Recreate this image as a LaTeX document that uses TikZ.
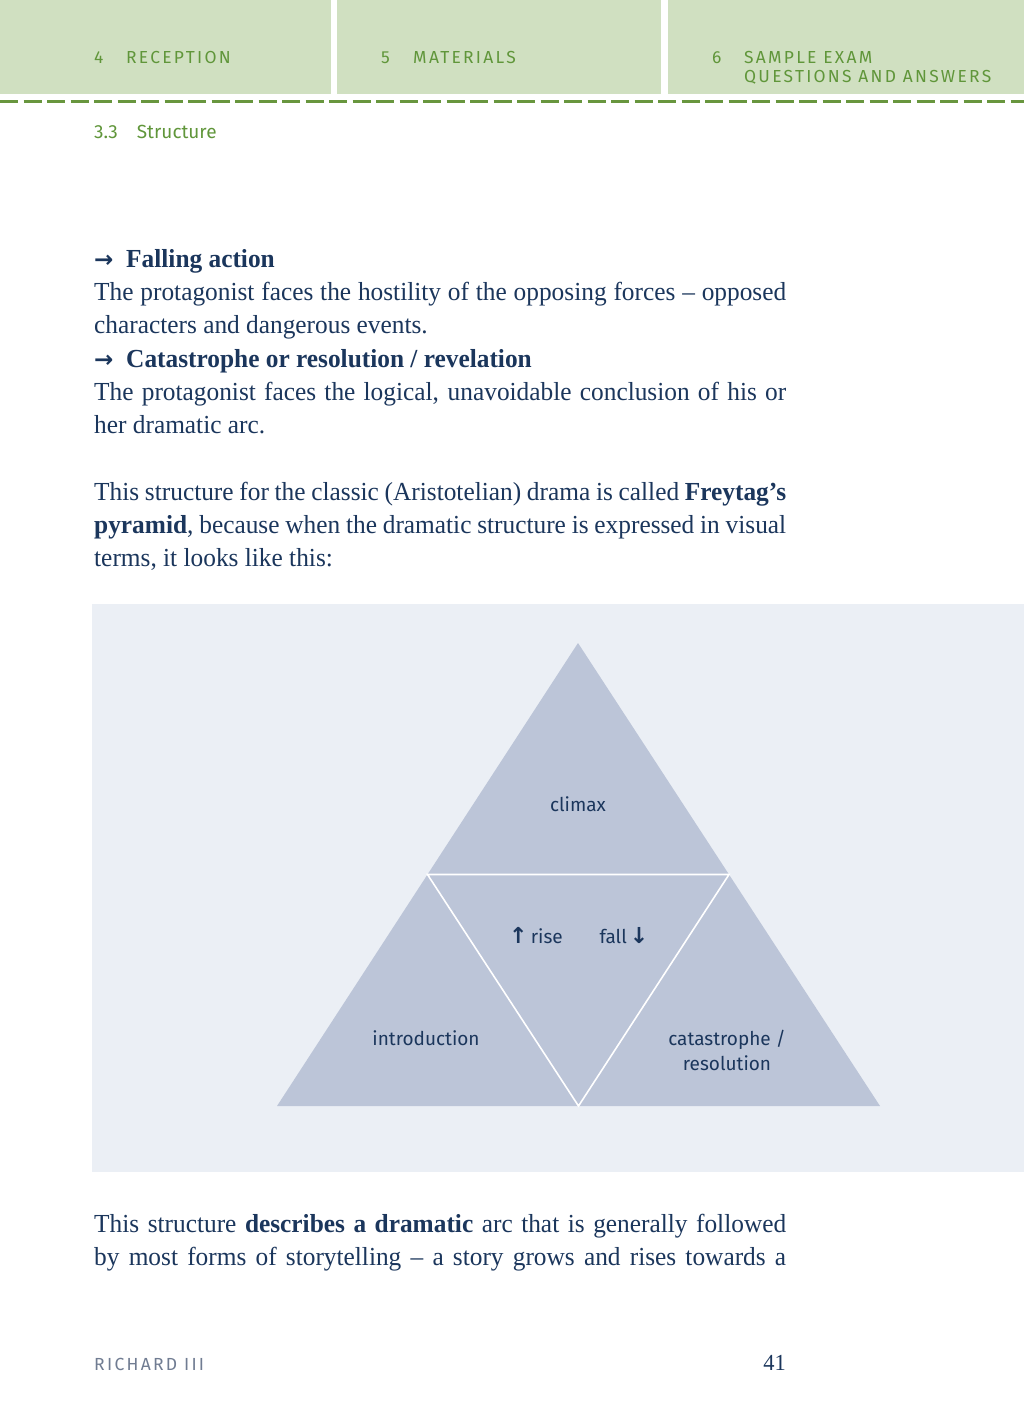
\documentclass[tikz,border=0pt]{standalone}
\usepackage{fontspec}
\setmainfont{Liberation Serif}[FakeStretch=0.975]
\newfontfamily\headfont{Fira Sans}[LetterSpace=13]
\newfontfamily\labfont{Fira Sans}
\newfontfamily\symfont{DejaVu Sans}
\usetikzlibrary{positioning}

\definecolor{hdrfill}{RGB}{208,224,193}
\definecolor{hdrgreen}{RGB}{96,150,58}
\definecolor{dashgreen}{RGB}{104,150,62}
\definecolor{inkblue}{RGB}{27,54,92}
\definecolor{panelgray}{RGB}{235,239,245}
\definecolor{pyrfill}{RGB}{188,197,216}
\definecolor{footgray}{RGB}{112,124,146}

\tikzset{
  body/.style={anchor=base west, inner sep=0pt, text=inkblue,
    font=\fontsize{26}{33}\selectfont},
  head/.style={anchor=base west, inner sep=0pt, text=hdrgreen,
    font=\headfont\fontsize{17.4}{19}\selectfont},
  lab/.style={text=inkblue, align=center, inner sep=0pt,
    font=\labfont\fontsize{19}{25}\selectfont},
  tab/.style={fill=hdrfill}
}
\newcommand{\fullline}[1]{\makebox[692pt][s]{#1}}
\newcommand{\bulletarr}{{\symfont\bfseries\fontsize{23}{23}\selectfont →}}

\begin{document}
\begin{tikzpicture}[x=1pt, y=-1pt]

\useasboundingbox (0,0) rectangle (1024,1418);
\fill[white] (0,0) rectangle (1024,1418);

% header tabs
\fill[tab] (0,0) rectangle (331,94);
\fill[tab] (337,0) rectangle (661,94);
\fill[tab] (668,0) rectangle (1024,94);
\draw[dashgreen, line width=3pt, dash pattern=on 18pt off 5.5pt] (0,102) -- (1024,102);

\node[head] (num4) at (94,64) {4};
\node[head] (tab4) at (126,64) {RECEPTION};
\node[head] (num5) at (381,64) {5};
\node[head] (tab5) at (413,64) {MATERIALS};
\node[head] (num6) at (712,64) {6};
\node[head] (tab6a) at (744,64) {SAMPLE EXAM};
\node[head] (tab6b) at (744,83) {QUESTIONS AND ANSWERS};
\node[head, font=\labfont\fontsize{19}{20}\selectfont] (sect) at (94,139) {3.3\hspace{19pt}Structure};

% text above the figure
\node[body] (arr1) at (94,267) {\bulletarr};
\node[body] (falling) at (126,267) {\textbf{Falling action}};
\node[body] (l1) at (94,300) {\fullline{The protagonist faces the hostility of the opposing forces -- opposed}};
\node[body] (l2) at (94,333) {characters and dangerous events.};
\node[body] (arr2) at (94,367) {\bulletarr};
\node[body] (catas) at (126,367) {\textbf{Catastrophe or resolution / revelation}};
\node[body] (l3) at (94,400) {\fullline{The protagonist faces the logical, unavoidable conclusion of his or}};
\node[body] (l4) at (94,433) {her dramatic arc.};
\node[body] (l5) at (94,500) {\fullline{This structure for the classic (Aristotelian) drama is called \textbf{Freytag’s}}};
\node[body] (l6) at (94,533) {\fullline{\textbf{pyramid}, because when the dramatic structure is expressed in visual}};
\node[body] (l7) at (94,566) {terms, it looks like this:};

% the pyramid
\fill[panelgray] (92,604) rectangle (1024,1172);
\coordinate (apex) at (578,643);
\coordinate (bl) at (277,1106);
\coordinate (br) at (880,1106);
\coordinate (ml) at (427.5,874.5);
\coordinate (mr) at (729,874.5);
\coordinate (mb) at (578.5,1106);
\fill[pyrfill] (apex) -- (bl) -- (br) -- cycle;
\draw[white, line width=1.6pt] (ml) -- (mr) -- (mb) -- cycle;

\node[lab] (climax) at (578,804) {climax};
\node[lab] (rise) at (536,936) {{\symfont\bfseries\fontsize{22}{22}\selectfont ↑}\,rise};
\node[lab] (fall) at (624,936) {fall\,{\symfont\bfseries\fontsize{22}{22}\selectfont ↓}};
\node[lab] (intro) at (426,1038) {introduction};
\node[lab] (resol) at (727,1050) {catastrophe /\\resolution};

% text below the figure
\node[body] (l8) at (94,1232) {\fullline{This structure \textbf{describes a dramatic} arc that is generally followed}};
\node[body] (l9) at (94,1265) {\fullline{by most forms of storytelling -- a story grows and rises towards a}};

% footer
\node[anchor=base west, inner sep=0pt, text=footgray,
  font=\headfont\fontsize{17.5}{18}\selectfont] (runner) at (94,1370) {RICHARD III};
\node[anchor=base east, inner sep=0pt, text=inkblue,
  font=\fontsize{23}{24}\selectfont] (pagenum) at (786,1370) {41};

\end{tikzpicture}
\end{document}
